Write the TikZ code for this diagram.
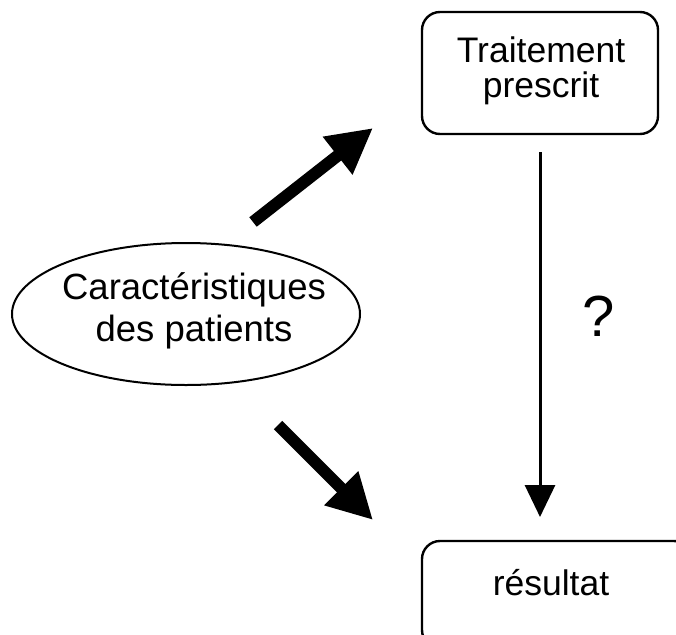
\documentclass[tikz,border=0pt]{standalone}
\usepackage{fontspec}
\setmainfont{Liberation Sans}
\usetikzlibrary{arrows.meta,shapes.geometric}
\begin{document}
\begin{tikzpicture}[x=1pt,y=-1pt,
  box/.style={draw, line width=2.4pt, rounded corners=18pt, inner sep=0pt},
  lbl/.style={font=\fontsize{35.5}{35}\selectfont, align=center, inner sep=0pt},
  fat/.style={line width=12pt, -{Triangle[length=45pt,width=45pt]}},
  thinarrow/.style={line width=3pt, -{Triangle[length=32pt,width=30pt]}}]
\clip (0,0) rectangle (676,634);
% boxes
\node[box, minimum width=236pt, minimum height=122pt] (trt) at (540,73) {};
\node[lbl] (trtt) at (541,71) {Traitement\\prescrit};
\node[box, minimum width=270pt, minimum height=107pt] (res) at (557,594.5) {};
\node[lbl, anchor=base] (rest) at (551,595) {résultat};
% ellipse
\node[draw, ellipse, line width=2pt, minimum width=348pt, minimum height=142pt, inner sep=0pt] (car) at (186,314) {};
\node[lbl, font=\fontsize{36.5}{42}\selectfont] (cart) at (194,311) {Caractéristiques\\des patients};
% question mark
\node[font=\fontsize{58}{60}\selectfont, inner sep=0pt] (q) at (599,316) {?};
% arrows
\coordinate (u1) at (253,222);
\coordinate (u2) at (373,128);
\coordinate (d1) at (278,425);
\coordinate (d2) at (373,520);
\coordinate (v1) at (540,152);
\coordinate (v2) at (540,517);
\draw[fat] (u1) -- (u2);
\draw[fat] (d1) -- (d2);
\draw[thinarrow] (v1) -- (v2);
\end{tikzpicture}
\end{document}
